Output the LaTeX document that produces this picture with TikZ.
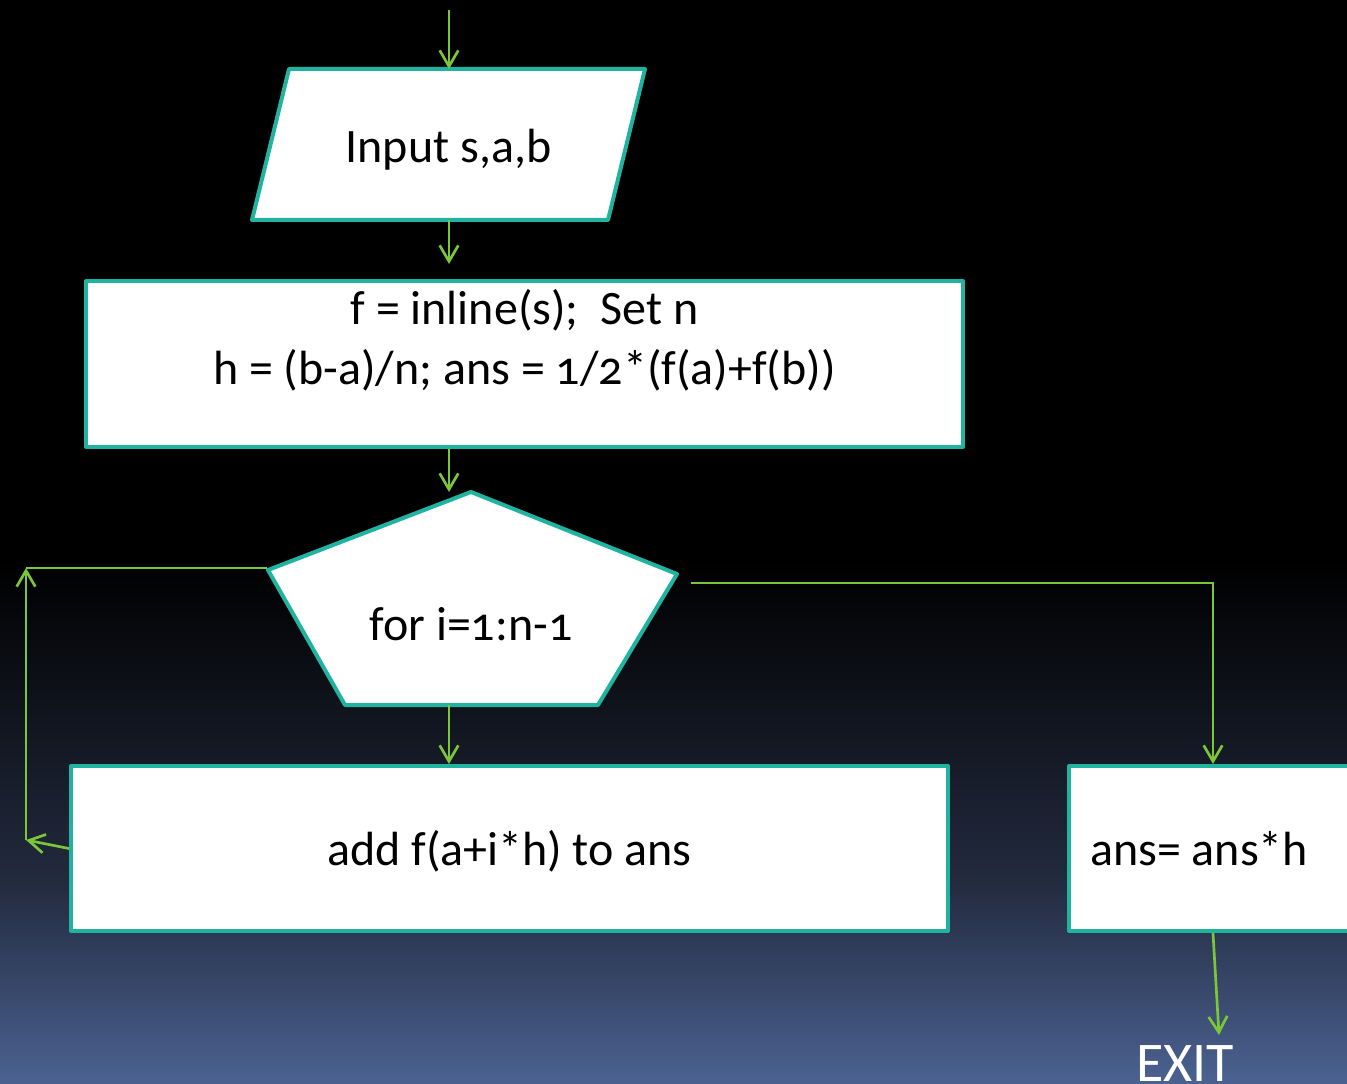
\documentclass[tikz,border=0pt]{standalone}
\usepackage{fontspec}
\setmainfont{Carlito}[Numbers=OldStyle]
\usetikzlibrary{arrows.meta}
\definecolor{bordc}{HTML}{1FB3A0}
\definecolor{arrc}{HTML}{7CC63A}
\definecolor{bgA}{HTML}{222A3E}
\definecolor{bgB}{HTML}{4B6291}
\begin{document}
\begin{tikzpicture}[x=0.75pt,y=-0.75pt,
  shapeborder/.style={draw=bordc, line width=3pt, fill=white, line join=round},
  conn/.style={draw=arrc, line width=2pt},
  arr/.style={conn, -{Straight Barb[length=12pt,width=14pt]}},
  txt/.style={font=\fontsize{36}{45}\selectfont, text=black, inner sep=0pt, anchor=base}]
\useasboundingbox (0,0) rectangle (1347,1084);
\clip (0,0) rectangle (1347,1084);
% background
\fill[black] (0,0) rectangle (1347,561);
\shade[top color=black, bottom color=bgA] (0,560) rectangle (1347,881);
\shade[top color=bgA, bottom color=bgB] (0,880) rectangle (1347,1084);
% input parallelogram
\filldraw[shapeborder] (289,69) -- (645,69) -- (608,220) -- (252,220) -- cycle;
\coordinate (pT) at (449,69);
\coordinate (pB) at (449,220);
\node[txt] (inp) at (448.5,163) {Input s,a,b};
% init box
\node[shapeborder, minimum width=657.75pt, minimum height=124.5pt, inner sep=0pt] (r2) at (524.5,364) {};
\node[txt] (t2a) at (524.5,325) {f = inline(s);\ \ Set n};
\node[txt] (t2b) at (524.5,385) {h = (b-a)/n; ans = 1/2*(f(a)+f(b))};
\coordinate (r2in) at (449,264);
% loop pentagon
\filldraw[shapeborder] (471,492) -- (677,574) -- (598,705) -- (345,705) -- (268,570) -- cycle;
\coordinate (penA) at (449,492);
\coordinate (penB) at (449,705);
\node[txt] (t5) at (471,640) {for i=1:n-1};
% body box
\node[shapeborder, minimum width=657.75pt, minimum height=123.75pt, inner sep=0pt] (r3) at (509.5,848.5) {};
\node[txt] (t3) at (509.5,865) {add f(a+i*h) to ans};
% final box
\node[shapeborder, minimum width=248.25pt, minimum height=123.75pt, inner sep=0pt] (r4) at (1234.5,848.5) {};
\node[txt, anchor=base west] (t4) at (1090,865) {ans= ans*h};
\node[txt, anchor=base west, text=white, font=\fontsize{42}{42}\selectfont] (exit) at (1136,1081) {EXIT};
% connectors
\coordinate (top) at (449,10);
\draw[arr] (top) -- (pT);
\draw[arr] (pB) -- (r2in);
\coordinate (r2b) at (r2.south -| pB);
\draw[arr] (r2b) -- (penA);
\draw[arr] (penB) -- (penB |- r3.north);
\coordinate (loopA) at (26,840);
\coordinate (loopB) at (26,568);
\coordinate (loopC) at (267,568);
\draw[arr] (r3.west) -- (loopA);
\draw[arr] (loopA) -- (loopB);
\draw[conn] (loopB) -- (loopC);
\coordinate (rA) at (691,583);
\coordinate (rB) at (1213,583);
\draw[arr] (rA) -- (rB) -- (rB |- r4.north);
\coordinate (r4b) at (r4.south -| rB);
\coordinate (exitA) at (1219,1035);
\draw[arr] (r4b) -- (exitA);
\end{tikzpicture}
\end{document}
